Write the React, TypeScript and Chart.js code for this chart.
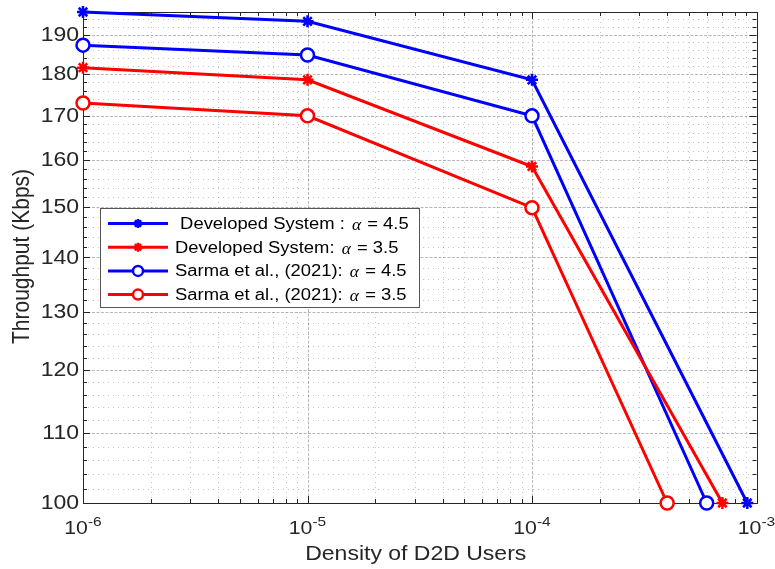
import React, { useEffect, useRef } from 'react';
import { Chart, registerables } from 'chart.js';

Chart.register(...registerables);

// ---------- data ----------
const devX45 = [1e-6, 1e-5, 1e-4, 9.1e-4];
const devY45 = [196.0, 193.5, 178.6, 100];
const devX35 = [1e-6, 1e-5, 1e-4, 7.05e-4];
const devY35 = [181.6, 178.6, 158.6, 100];
const sarX45 = [1e-6, 1e-5, 1e-4, 6.0e-4];
const sarY45 = [187.3, 184.8, 170.0, 100];
const sarX35 = [1e-6, 1e-5, 1e-4, 4.0e-4];
const sarY35 = [173.0, 170.0, 149.9, 100];

const seriesNames = [' Developed System : ', 'Developed System: ', 'Sarma et al., (2021): ', 'Sarma et al., (2021): '];
const alphaValues = ['4.5', '3.5', '4.5', '3.5'];

const yMajorTicks = [100, 110, 120, 130, 140, 150, 160, 170, 180, 190];
const yTickLabels = ['100', '110', '120', '130', '140', '150', '160', '170', '180', '190'];
const xMajorTicks = [1e-6, 1e-5, 1e-4, 1e-3];
const xTickExponents = ['-6', '-5', '-4', '-3'];
const yMin = 100;
const yMax = 196;

const xTitle = 'Density of D2D Users';
const yTitle = 'Throughput (Kbps)';

const BLUE = '#0000ff';
const RED = '#ff0000';
const AXIS = '#262626';
const SX = 1.15; // horizontal text stretch seen in the reference

function sText(ctx: CanvasRenderingContext2D, text: string, x: number, y: number, font: string, align: string, color: string) {
  ctx.save();
  ctx.font = font;
  ctx.fillStyle = color;
  const w = ctx.measureText(text).width * SX;
  const x0 = align === 'center' ? x - w / 2 : align === 'right' ? x - w : x;
  ctx.translate(x0, y);
  ctx.scale(SX, 1);
  ctx.textAlign = 'left';
  ctx.fillText(text, 0, 0);
  ctx.restore();
  return w;
}

function measure(ctx: CanvasRenderingContext2D, text: string, font: string) {
  ctx.save();
  ctx.font = font;
  const w = ctx.measureText(text).width * SX;
  ctx.restore();
  return w;
}

function drawMarker(ctx: CanvasRenderingContext2D, style: string, x: number, y: number, r: number, color: string, lw: number) {
  ctx.save();
  ctx.strokeStyle = color;
  ctx.lineWidth = lw;
  ctx.setLineDash([]);
  ctx.beginPath();
  if (style === 'circle') {
    ctx.fillStyle = '#ffffff';
    ctx.arc(x, y, r, 0, Math.PI * 2);
    ctx.fill();
    ctx.stroke();
  } else {
    for (let k = 0; k < 4; k++) {
      const ang = (k * Math.PI) / 4;
      ctx.moveTo(x - Math.cos(ang) * r, y - Math.sin(ang) * r);
      ctx.lineTo(x + Math.cos(ang) * r, y + Math.sin(ang) * r);
    }
    ctx.stroke();
  }
  ctx.restore();
}

const matlabPlugin = {
  id: 'matlabAxes',
  beforeDatasetsDraw(chart: any) {
    const { ctx, chartArea: a, scales } = chart;
    const xs = scales.x;
    const ys = scales.y;
    ctx.save();

    const yMinor: number[] = [];
    for (let v = yMin + 2; v < yMax; v += 2) if (v % 10 !== 0) yMinor.push(v);
    const xMinor: number[] = [];
    for (let e = 0; e < xMajorTicks.length - 1; e++) for (let k = 2; k <= 9; k++) xMinor.push(k * xMajorTicks[e]);

    // minor grid
    ctx.lineWidth = 1;
    ctx.strokeStyle = 'rgba(38,38,38,0.26)';
    ctx.setLineDash([1, 4]);
    ctx.beginPath();
    yMinor.forEach((v) => {
      const p = Math.round(ys.getPixelForValue(v)) + 0.5;
      ctx.moveTo(a.left, p);
      ctx.lineTo(a.right, p);
    });
    xMinor.forEach((v) => {
      const p = Math.round(xs.getPixelForValue(v)) + 0.5;
      ctx.moveTo(p, a.top);
      ctx.lineTo(p, a.bottom);
    });
    ctx.stroke();

    // major grid
    ctx.strokeStyle = 'rgba(38,38,38,0.33)';
    ctx.setLineDash([3, 1.5]);
    ctx.beginPath();
    yMajorTicks.forEach((v) => {
      const p = Math.round(ys.getPixelForValue(v)) + 0.5;
      ctx.moveTo(a.left, p);
      ctx.lineTo(a.right, p);
    });
    xMajorTicks.forEach((v) => {
      const p = Math.round(xs.getPixelForValue(v)) + 0.5;
      ctx.moveTo(p, a.top);
      ctx.lineTo(p, a.bottom);
    });
    ctx.stroke();

    // box
    ctx.setLineDash([]);
    ctx.strokeStyle = AXIS;
    ctx.lineWidth = 1;
    ctx.strokeRect(Math.round(a.left) + 0.5, Math.round(a.top) + 0.5, Math.round(a.right - a.left), Math.round(a.bottom - a.top));

    // ticks (inward, all four sides)
    const majLen = 7;
    const minLen = 4;
    ctx.beginPath();
    const yTick = (v: number, len: number) => {
      const p = Math.round(ys.getPixelForValue(v)) + 0.5;
      ctx.moveTo(a.left, p);
      ctx.lineTo(a.left + len, p);
      ctx.moveTo(a.right, p);
      ctx.lineTo(a.right - len, p);
    };
    const xTick = (v: number, len: number) => {
      const p = Math.round(xs.getPixelForValue(v)) + 0.5;
      ctx.moveTo(p, a.bottom);
      ctx.lineTo(p, a.bottom - len);
      ctx.moveTo(p, a.top);
      ctx.lineTo(p, a.top + len);
    };
    yMajorTicks.forEach((v) => yTick(v, majLen));
    yMinor.forEach((v) => yTick(v, minLen));
    xMajorTicks.forEach((v) => xTick(v, majLen));
    xMinor.forEach((v) => xTick(v, minLen));
    ctx.stroke();

    // y tick labels
    ctx.textBaseline = 'middle';
    yMajorTicks.forEach((v, i) => {
      const p = ys.getPixelForValue(v);
      sText(ctx, yTickLabels[i], a.left - 4, p + 0.5, '20px "Liberation Sans", Arial, sans-serif', 'right', AXIS);
    });

    // x tick labels 10^e
    ctx.textBaseline = 'alphabetic';
    const mainFont = '18.5px "Liberation Sans", Arial, sans-serif';
    const supFont = '13.5px "Liberation Sans", Arial, sans-serif';
    xMajorTicks.forEach((v, i) => {
      const p = xs.getPixelForValue(v);
      const w1 = measure(ctx, '10', mainFont);
      const w2 = measure(ctx, xTickExponents[i], supFont);
      const x0 = p - (w1 + w2) / 2;
      sText(ctx, '10', x0, a.bottom + 31, mainFont, 'left', AXIS);
      sText(ctx, xTickExponents[i], x0 + w1, a.bottom + 23, supFont, 'left', AXIS);
    });

    // axis titles
    sText(ctx, xTitle, (a.left + a.right) / 2 - 4, a.bottom + 57, '20px "Liberation Sans", Arial, sans-serif', 'center', AXIS);
    ctx.save();
    ctx.translate(22, (a.top + a.bottom) / 2 - 1);
    ctx.scale(SX, 1);
    ctx.rotate(-Math.PI / 2);
    ctx.font = '21px "Liberation Sans", Arial, sans-serif';
    ctx.fillStyle = AXIS;
    ctx.textAlign = 'center';
    ctx.textBaseline = 'middle';
    ctx.fillText(yTitle, 0, 0);
    ctx.restore();

    ctx.restore();
  },
  afterDatasetsDraw(chart: any) {
    const { ctx, chartArea: a } = chart;
    const ds = chart.data.datasets;
    ctx.save();
    const left = a.left + 17;
    const top = a.top + 196;
    const pitch = 23.7;
    const textFont = '16px "Liberation Sans", Arial, sans-serif';
    const alphaFont = 'italic 17.5px "Liberation Serif", "Times New Roman", serif';
    const textX = left + 75;
    let maxEnd = 0;
    seriesNames.forEach((n, i) => {
      const w = measure(ctx, n, textFont) + 2 + measure(ctx, '\u03b1', alphaFont) + 1 + measure(ctx, ' = ' + alphaValues[i], textFont);
      maxEnd = Math.max(maxEnd, textX + w);
    });
    const right = Math.round(maxEnd + 9);
    const bottom = Math.round(top + 15 + pitch * 3 + 13);
    ctx.fillStyle = '#ffffff';
    ctx.fillRect(left, top, right - left, bottom - top);
    ctx.strokeStyle = '#555555';
    ctx.lineWidth = 1;
    ctx.strokeRect(Math.round(left) + 0.5, Math.round(top) + 0.5, right - Math.round(left), bottom - Math.round(top));

    ds.forEach((d: any, i: number) => {
      const y = top + 15.5 + i * pitch;
      ctx.strokeStyle = d.borderColor;
      ctx.lineWidth = 3;
      ctx.beginPath();
      ctx.moveTo(left + 8, y);
      ctx.lineTo(left + 68, y);
      ctx.stroke();
      drawMarker(ctx, d.pointStyle === 'circle' ? 'circle' : 'star', left + 38, y, d.pointStyle === 'circle' ? 5 : 4.5, d.borderColor, 2.5);
      ctx.textBaseline = 'middle';
      let x = textX;
      x += sText(ctx, seriesNames[i], x, y + 1, textFont, 'left', '#000000') + 2;
      ctx.save();
      ctx.font = alphaFont;
      ctx.fillStyle = '#000000';
      ctx.textBaseline = 'middle';
      ctx.fillText('\u03b1', x, y + 2);
      x += ctx.measureText('\u03b1').width + 1;
      ctx.restore();
      sText(ctx, ' = ' + alphaValues[i], x, y + 1, textFont, 'left', '#000000');
    });
    ctx.restore();
  },
};

function pts(xs: number[], ys: number[]) {
  return xs.map((x, i) => ({ x, y: ys[i] }));
}

export default function App() {
  const ref = useRef<HTMLCanvasElement | null>(null);
  useEffect(() => {
    document.body.style.margin = '0';
    if (!ref.current) return;
    const mk = (label: string, xs: number[], ys: number[], color: string, style: string) => ({
      label,
      data: pts(xs, ys),
      borderColor: color,
      backgroundColor: style === 'circle' ? '#ffffff' : color,
      borderWidth: 3,
      pointStyle: style,
      pointRadius: style === 'circle' ? 6.5 : 6,
      pointBorderWidth: 2.5,
      pointBackgroundColor: style === 'circle' ? '#ffffff' : color,
      pointBorderColor: color,
      tension: 0,
      clip: false,
    });
    const chart = new Chart(ref.current, {
      type: 'line',
      data: {
        datasets: [
          mk(seriesNames[0] + 'α = ' + alphaValues[0], devX45, devY45, BLUE, 'star'),
          mk(seriesNames[1] + 'α = ' + alphaValues[1], devX35, devY35, RED, 'star'),
          mk(seriesNames[2] + 'α = ' + alphaValues[2], sarX45, sarY45, BLUE, 'circle'),
          mk(seriesNames[3] + 'α = ' + alphaValues[3], sarX35, sarY35, RED, 'circle'),
        ],
      },
      options: {
        animation: false,
        responsive: false,
        devicePixelRatio: 1,
        layout: { padding: { left: 83, top: 12, right: 18.5, bottom: 66 } },
        scales: {
          x: { type: 'logarithmic', min: 1e-6, max: 1e-3, display: false },
          y: { type: 'logarithmic', min: yMin, max: yMax, display: false },
        },
        plugins: { legend: { display: false }, tooltip: { enabled: false } },
        events: [],
      },
      plugins: [matlabPlugin],
    } as any);
    return () => chart.destroy();
  }, []);
  return (
    <div style={{ position: 'absolute', left: 0, top: 0, width: 775, height: 569, background: '#ffffff' }}>
      <canvas ref={ref} width={775} height={569} style={{ width: 775, height: 569, display: 'block' }} />
    </div>
  );
}
